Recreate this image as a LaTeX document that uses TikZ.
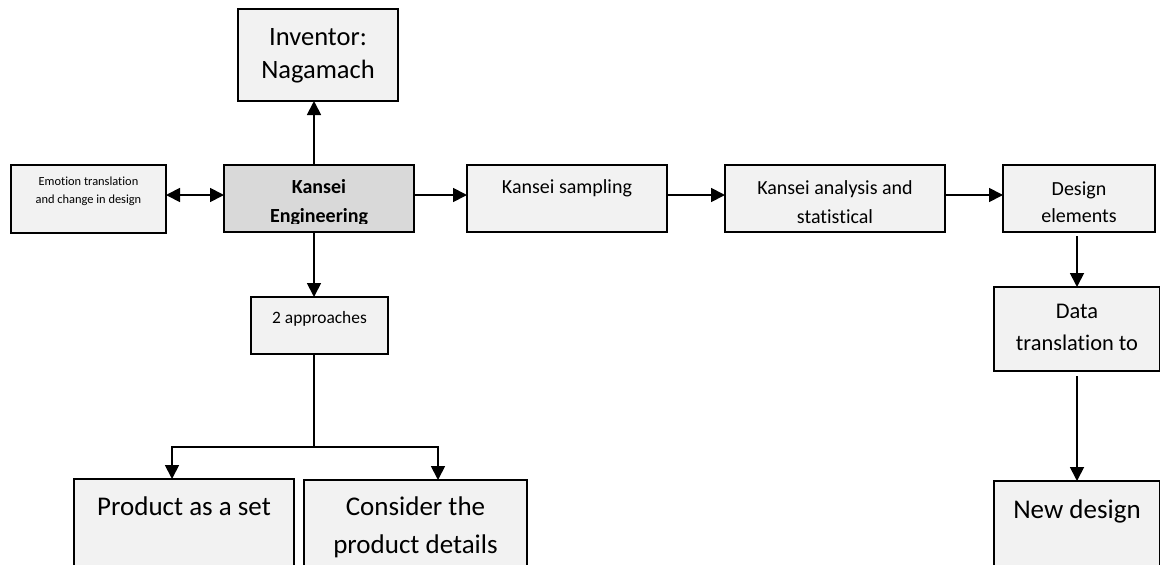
\documentclass[tikz,border=0pt]{standalone}
\usepackage{fontspec}
\setmainfont{Carlito}[Ligatures=NoCommon]
\usetikzlibrary{arrows.meta}
\definecolor{boxfill}{HTML}{F2F2F2}
\definecolor{kefill}{HTML}{D9D9D9}
% #1 width, #2 height, #3 first baseline offset, #4 font size, #5 baselineskip, #6 text
\newcommand\bt[6]{\parbox[t][#2pt][t]{#1pt}{\centering\fontsize{#4}{#5}\selectfont\rule{0pt}{#3pt}#6}}
\tikzset{
  bx/.style={draw=black, line width=2pt, fill=boxfill, inner sep=0pt, outer sep=0pt, anchor=north west},
  arr/.style={line width=1.8pt, -{Triangle[length=14pt,width=14pt]}, line join=miter},
  darr/.style={line width=1.8pt, {Triangle[length=14pt,width=14pt]}-{Triangle[length=14pt,width=14pt]}},
  ln/.style={line width=1.8pt, line join=miter},
}
\begin{document}
\begin{tikzpicture}[x=1pt,y=-1pt]
\useasboundingbox (0,0) rectangle (1160,565);
\clip (0,0) rectangle (1160,565);
% boxes
\node[bx, minimum width=160pt, minimum height=92pt] (inv) at (238,9) {\bt{160}{92}{36}{26.5}{33}{Inventor:\\Nagamach}};
\node[bx, minimum width=155pt, minimum height=68pt] (emo) at (11,165) {\bt{155}{68}{20}{12.4}{18}{Emotion translation\\and change in design}};
\node[bx, fill=kefill, minimum width=190pt, minimum height=67pt] (ke) at (224,165) {};
\begin{scope}
  \clip (223,164) rectangle (415,223.5);
  \node[inner sep=0pt, outer sep=0pt, anchor=north west] (ketext) at (224,165) {\bt{190}{67}{28}{20}{29}{\bfseries Kansei\\Engineering}};
\end{scope}
\node[bx, minimum width=200pt, minimum height=67pt] (ks) at (467,165) {\bt{200}{67}{28}{20}{29}{Kansei sampling}};
\node[bx, minimum width=220pt, minimum height=67pt] (ka) at (725,165) {\bt{220}{67}{29}{20}{29}{Kansei analysis and\\statistical}};
\node[bx, minimum width=152pt, minimum height=67pt] (de) at (1003,165) {\bt{152}{67}{30}{20}{27}{Design\\elements}};
\node[bx, minimum width=137pt, minimum height=57pt] (ap) at (251,297) {\bt{137}{57}{26}{17.4}{21}{2 approaches}};
\node[bx, minimum width=220pt, minimum height=100pt] (ps) at (74,479) {\bt{220}{100}{36}{27}{38}{Product as a set}};
\node[bx, minimum width=223pt, minimum height=100pt] (cd) at (304,480) {\bt{223}{100}{35}{27}{38}{Consider the\\product details}};
\node[bx, minimum width=166pt, minimum height=84pt] (dt) at (994,287) {\bt{166}{84}{31}{22.4}{32}{Data\\translation to}};
\node[bx, minimum width=166pt, minimum height=100pt] (nd) at (994,481) {\bt{166}{100}{37}{27}{38}{New design}};
% helper coordinates
\coordinate (xk) at (314,0);
\coordinate (xd) at (1077,0);
\coordinate (yrow) at (0,195);
\coordinate (br) at (314,447);
\coordinate (pl) at (172,447);
\coordinate (pr) at (438,447);
% connectors
\draw[arr] (ke.north -| xk) -- (inv.south -| xk);
\draw[darr] (emo.east |- yrow) -- (ke.west |- yrow);
\draw[arr] (ke.east |- yrow) -- (ks.west |- yrow);
\draw[arr] (ks.east |- yrow) -- (ka.west |- yrow);
\draw[arr] (ka.east |- yrow) -- (de.west |- yrow);
\draw[arr] (ke.south -| xk) -- (ap.north -| xk);
\draw[ln] (ap.south -| xk) -- (br);
\draw[arr] (br) -- (pl) -- (ps.north -| pl);
\draw[arr] (br) -- (pr) -- (cd.north -| pr);
\draw[arr, shorten <=4pt] (de.south -| xd) -- (dt.north -| xd);
\draw[arr, shorten <=5pt] (dt.south -| xd) -- (nd.north -| xd);
\end{tikzpicture}
\end{document}
